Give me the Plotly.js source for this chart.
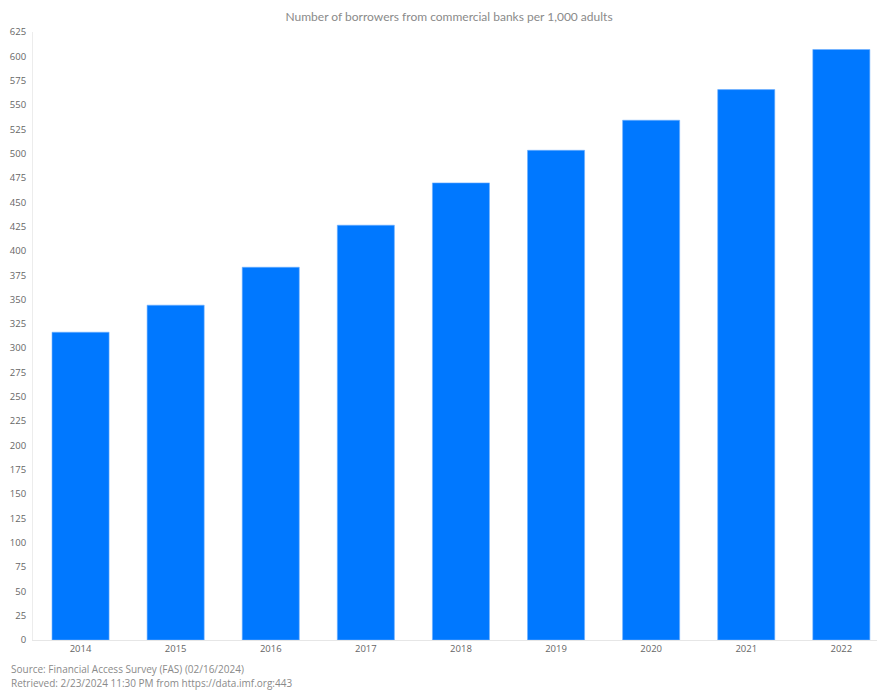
<!DOCTYPE html>
<html>
<head>
<meta charset="utf-8">
<script src="https://cdn.plot.ly/plotly-3.0.1.min.js"></script>
<style>html,body{margin:0;padding:0;background:#fff;}#chart{width:877px;height:690px;}</style>
</head>
<body>
<div id="chart"></div>
<script>
const years = ["2014","2015","2016","2017","2018","2019","2020","2021","2022"];
const borrowers = [316.4, 344.2, 383.2, 426.4, 469.9, 503.4, 534.3, 565.8, 607.0];
const yTicks = [0,25,50,75,100,125,150,175,200,225,250,275,300,325,350,375,400,425,450,475,500,525,550,575,600,625];
const titleText = "Number of borrowers from commercial banks per 1,000 adults";
const sourceLines = ["Source: Financial Access Survey (FAS) (02/16/2024)", "Retrieved: 2/23/2024 11:30 PM from https://data.imf.org:443"];

const trace = {
  type: "bar",
  x: years,
  y: borrowers,
  marker: {color: "#0078ff", line: {color: "#6fb0ff", width: 0.6}},
  hoverinfo: "x+y"
};

const layout = {
  width: 877, height: 690,
  margin: {l: 33, r: 0, t: 32, b: 50},
  paper_bgcolor: "#fff", plot_bgcolor: "#fff",
  bargap: 0.4,
  showlegend: false,
  font: {family: "Open Sans, sans-serif", color: "#666", size: 10},
  title: {text: titleText, x: 0.512, xanchor: "center", y: 0.982, yanchor: "top",
          font: {family: "Lato, sans-serif", size: 12, color: "#8a8a8a"}},
  xaxis: {type: "category", range: [-0.5, 8.375], showgrid: false, zeroline: false,
          showline: true, linecolor: "#e6e6e6", linewidth: 1, ticks: "",
          tickfont: {family: "Open Sans, sans-serif", size: 9.5, color: "#666"}},
  yaxis: {range: [0, 625], tickvals: yTicks, ticktext: yTicks.map(String), showgrid: false,
          zeroline: false, showline: true, linecolor: "#ececec", linewidth: 1, ticks: "",
          ticklabelstandoff: 4,
          tickfont: {family: "Open Sans, sans-serif", size: 9.5, color: "#666"}},
  annotations: [
    {text: sourceLines[0], xref: "paper", yref: "paper", x: -0.029, y: -0.033, xanchor: "left", yanchor: "top",
     showarrow: false, font: {family: "Open Sans, sans-serif", size: 10, color: "#8a8a8a"}},
    {text: sourceLines[1], xref: "paper", yref: "paper", x: -0.029, y: -0.056, xanchor: "left", yanchor: "top",
     showarrow: false, font: {family: "Open Sans, sans-serif", size: 10, color: "#8a8a8a"}}
  ]
};

Plotly.newPlot("chart", [trace], layout, {displayModeBar: false, staticPlot: true});
</script>
</body>
</html>
